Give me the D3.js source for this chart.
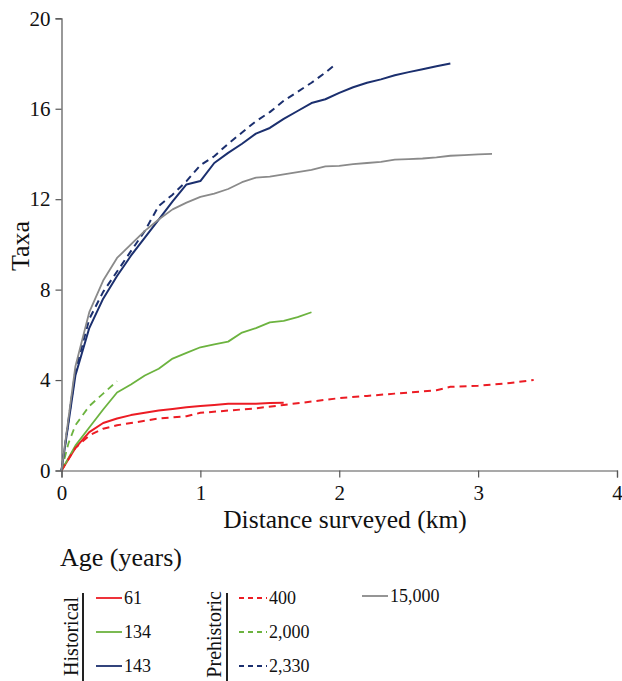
<!DOCTYPE html>
<html><head><meta charset="utf-8">
<script src="https://cdn.jsdelivr.net/npm/d3@7"></script>
<style>
body{margin:0;background:#fff;}
svg text{font-family:"Liberation Serif","Times New Roman",Times,serif;fill:#111;}
</style></head>
<body><svg id="c" width="622" height="681"></svg>
<script>
// distance (km)
const x61 = [0,0.1,0.2,0.3,0.4,0.5,0.6,0.7,0.8,0.9,1.0,1.1,1.2,1.3,1.4,1.5,1.6];
const y61 = [0,1.0,1.7,2.1,2.3,2.45,2.55,2.65,2.72,2.8,2.85,2.9,2.95,2.95,2.95,2.98,3.0];
const x134 = [0,0.1,0.2,0.3,0.4,0.5,0.6,0.7,0.8,0.9,1.0,1.1,1.2,1.3,1.4,1.5,1.6,1.7,1.8];
const y134 = [0,1.1,1.9,2.7,3.45,3.8,4.2,4.5,4.95,5.2,5.45,5.58,5.7,6.1,6.3,6.55,6.62,6.78,7.0];
const x143 = [0,0.1,0.2,0.3,0.4,0.5,0.6,0.7,0.8,0.9,1.0,1.1,1.2,1.3,1.4,1.5,1.6,1.7,1.8,1.9,2.0,2.1,2.2,2.3,2.4,2.5,2.6,2.7,2.8];
const y143 = [0,4.2,6.3,7.6,8.6,9.5,10.3,11.1,11.9,12.65,12.8,13.6,14.05,14.45,14.9,15.15,15.55,15.9,16.25,16.42,16.7,16.95,17.15,17.3,17.48,17.62,17.75,17.88,18.0];
const x400 = [0,0.1,0.2,0.3,0.4,0.5,0.6,0.7,0.8,0.9,1.0,1.2,1.4,1.6,1.8,2.0,2.2,2.4,2.6,2.7,2.8,3.0,3.2,3.4];
const y400 = [0,1.0,1.55,1.85,2.0,2.1,2.2,2.3,2.35,2.4,2.55,2.65,2.75,2.9,3.05,3.2,3.3,3.4,3.5,3.55,3.7,3.75,3.85,4.0];
const x2000 = [0,0.05,0.1,0.2,0.3,0.4];
const y2000 = [0,1.2,2.0,2.85,3.4,3.95];
const x2330 = [0,0.1,0.2,0.3,0.4,0.5,0.6,0.7,0.8,0.9,1.0,1.1,1.2,1.3,1.4,1.5,1.6,1.7,1.8,1.9,1.96];
const y2330 = [0,4.4,6.7,7.9,8.8,9.7,10.6,11.7,12.2,12.8,13.5,13.9,14.45,14.95,15.45,15.85,16.35,16.75,17.15,17.6,17.9];
const x15000 = [0,0.1,0.2,0.3,0.4,0.5,0.6,0.7,0.8,0.9,1.0,1.1,1.2,1.3,1.4,1.5,1.6,1.7,1.8,1.9,2.0,2.1,2.2,2.3,2.4,2.5,2.6,2.7,2.8,2.9,3.0,3.1];
const y15000 = [0,4.6,7.0,8.4,9.4,10.0,10.6,11.1,11.55,11.85,12.1,12.25,12.45,12.75,12.95,13.0,13.1,13.2,13.3,13.45,13.47,13.55,13.6,13.65,13.75,13.77,13.8,13.85,13.92,13.95,13.98,14.0];

const xTicks = [0,1,2,3,4];
const yTicks = [0,4,8,12,16,20];

const series = [
  {name:"61", xs:x61, ys:y61, color:"#ec1c24", dash:null, w:2},
  {name:"134", xs:x134, ys:y134, color:"#6cb33f", dash:null, w:1.8},
  {name:"143", xs:x143, ys:y143, color:"#1b2f6e", dash:null, w:2},
  {name:"400", xs:x400, ys:y400, color:"#ec1c24", dash:"7,5", w:2},
  {name:"2,000", xs:x2000, ys:y2000, color:"#6cb33f", dash:"7,5", w:1.8},
  {name:"2,330", xs:x2330, ys:y2330, color:"#1b2f6e", dash:"7,5", w:2},
  {name:"15,000", xs:x15000, ys:y15000, color:"#8a8a8a", dash:null, w:1.8}
];

const FONT = '"Liberation Serif","Times New Roman",Times,serif';
const svg = d3.select("#c");
const x = d3.scaleLinear().domain([0,4]).range([61.5,617]);
const y = d3.scaleLinear().domain([0,20]).range([470.5,18.3]);

const gx = svg.append("g").attr("transform","translate(0,470.5)")
  .call(d3.axisBottom(x).tickValues(xTicks).tickFormat(d3.format("d")).tickSize(7).tickPadding(8));
const gy = svg.append("g").attr("transform","translate(61.5,0)")
  .call(d3.axisLeft(y).tickValues(yTicks).tickFormat(d3.format("d")).tickSize(6).tickPadding(5));
[gx,gy].forEach(g=>{
  g.attr("font-family",null);
  g.selectAll("path,line").attr("stroke","#555").attr("stroke-width",1.2);
  g.selectAll("text").style("font-family",FONT).attr("font-size",21).attr("fill","#111");
});

const line = d3.line().x(d=>x(d[0])).y(d=>y(d[1]));
series.forEach(s=>{
  const pts = s.xs.map((v,i)=>[v,s.ys[i]]);
  svg.append("path").datum(pts).attr("d",line).attr("fill","none")
    .attr("stroke",s.color).attr("stroke-width",s.w)
    .attr("stroke-dasharray",s.dash).attr("stroke-linejoin","round");
});

svg.append("text").attr("transform","translate(29,246) rotate(-90)").style("font-family",FONT)
  .attr("text-anchor","middle").attr("font-size",26).text("Taxa");
svg.append("text").attr("x",345).attr("y",528).style("font-family",FONT)
  .attr("text-anchor","middle").attr("font-size",25.5).text("Distance surveyed (km)");

// legend
svg.append("text").attr("x",60).attr("y",566).style("font-family",FONT).attr("font-size",26).text("Age (years)");
const groups = [
  {title:"Historical", tx:78, ty:597, bar:83, lx0:96, lx1:122, items:series.slice(0,3)},
  {title:"Prehistoric", tx:221, ty:591, bar:227, lx0:239, lx1:267, items:series.slice(3,6)},
  {title:null, tx:0, ty:0, bar:0, lx0:362, lx1:388, items:series.slice(6,7)}
];
const rowsY = [598,632,666];
groups.forEach(g=>{
  if(g.title){
    svg.append("text").attr("transform",`translate(${g.tx},${g.ty}) rotate(-90)`).style("font-family",FONT)
      .attr("text-anchor","end").attr("font-size",20).text(g.title);
    svg.append("line").attr("x1",g.bar).attr("x2",g.bar).attr("y1",593).attr("y2",681)
      .attr("stroke","#222").attr("stroke-width",2);
  }
  g.items.forEach((s,i)=>{
    const yy = rowsY[i] - (g.title?0:2);
    svg.append("line").attr("x1",g.lx0).attr("x2",g.lx1).attr("y1",yy).attr("y2",yy)
      .attr("stroke",s.color).attr("stroke-width",s.dash?2:1.8).attr("stroke-dasharray",s.dash?"5,4":null);
    svg.append("text").attr("x",g.lx1+2).attr("y",yy+6).style("font-family",FONT).attr("font-size",18).text(s.name);
  });
});
</script></body></html>
